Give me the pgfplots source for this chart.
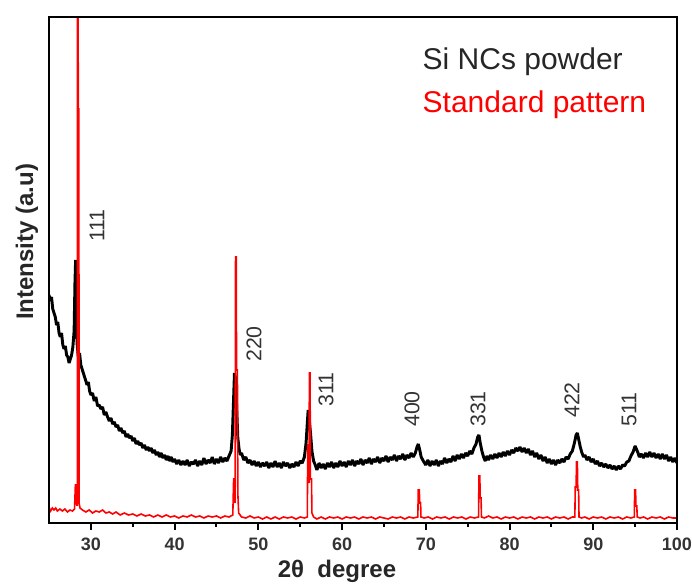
\documentclass[border=0pt]{standalone}
\usepackage{pgfplots}
\pgfplotsset{compat=1.18}
\usepackage{fontspec}
\setmainfont{Liberation Sans}

% Si NCs powder (black) and standard pattern (red), intensity in arbitrary units
\pgfplotstableread{
x y
25.00 228
25.15 222
25.30 226
25.45 214
25.60 210
25.75 206
25.90 198
26.05 201
26.20 190
26.35 186
26.50 190
26.65 178
26.80 174
26.95 177
27.10 168
27.25 166
27.40 160
27.55 164
27.70 168
27.85 176
28.00 192
28.10 240
28.18 263
28.26 215
28.35 180
28.50 166
28.65 170
28.80 158
28.95 154
29.10 150
29.25 146
29.40 142
29.55 138
29.70 141
29.85 132
30.00 128
30.20 130
30.40 122
30.60 126
30.80 117
31.00 118
31.20 114
31.40 116
31.60 108
31.80 111
32.00 106
32.20 102
32.40 105
32.60 99
32.80 101
33.00 96
33.20 98
33.40 92
33.60 95
33.80 90
34.00 92
34.20 86
34.40 89
34.60 85
34.80 87
35.00 82
35.20 85
35.40 79
35.60 82
35.80 78
36.00 80
36.20 75
36.40 78
36.60 73
36.80 76
37.00 72
37.20 75
37.40 70
37.60 73
37.80 68
38.00 71
38.20 66
38.40 70
38.60 65
38.80 68
39.00 63
39.20 67
39.40 62
39.60 66
39.80 61
40.00 64
40.25 59
40.50 63
40.75 58
41.00 62
41.25 58
41.50 63
41.75 57
42.00 61
42.25 59
42.50 63
42.75 57
43.00 62
43.25 58
43.50 65
43.75 59
44.00 63
44.25 60
44.50 66
44.75 59
45.00 64
45.25 60
45.50 66
45.75 61
46.00 65
46.25 62
46.50 67
46.75 72
46.90 88
47.05 125
47.15 150
47.25 146
47.40 118
47.55 85
47.70 74
47.85 68
48.00 70
48.25 63
48.50 66
48.75 60
49.00 63
49.25 58
49.50 62
49.75 57
50.00 61
50.25 56
50.50 60
50.75 57
51.00 61
51.25 55
51.50 60
51.75 56
52.00 62
52.25 56
52.50 60
52.75 55
53.00 61
53.25 57
53.50 60
53.75 55
54.00 59
54.25 56
54.50 61
54.75 57
55.00 62
55.25 60
55.50 66
55.70 80
55.85 100
55.95 113
56.10 102
56.25 88
56.40 72
56.60 62
56.80 58
57.00 53
57.25 60
57.50 55
57.75 59
58.00 54
58.25 60
58.50 56
58.75 61
59.00 55
59.25 60
59.50 56
59.75 62
60.00 57
60.25 61
60.50 56
60.75 62
61.00 58
61.25 63
61.50 57
61.75 62
62.00 59
62.25 64
62.50 58
62.75 63
63.00 60
63.25 65
63.50 59
63.75 64
64.00 61
64.25 66
64.50 60
64.75 65
65.00 62
65.25 67
65.50 61
65.75 66
66.00 63
66.25 68
66.50 62
66.75 67
67.00 64
67.25 69
67.50 63
67.75 68
68.00 65
68.25 70
68.50 66
68.75 70
68.95 76
69.10 79
69.25 74
69.45 66
69.70 62
70.00 58
70.25 63
70.50 57
70.75 62
71.00 58
71.25 63
71.50 57
71.75 62
72.00 59
72.25 65
72.50 60
72.75 64
73.00 61
73.25 67
73.50 62
73.75 68
74.00 64
74.25 69
74.50 65
74.75 70
75.00 67
75.25 72
75.50 69
75.75 75
76.00 79
76.20 86
76.35 88
76.50 80
76.70 72
76.90 66
77.10 62
77.30 67
77.50 63
77.75 68
78.00 64
78.25 69
78.50 65
78.75 70
79.00 66
79.25 71
79.50 67
79.75 72
80.00 68
80.25 73
80.50 70
80.75 75
81.00 72
81.25 76
81.50 71
81.75 75
82.00 70
82.25 74
82.50 68
82.75 72
83.00 66
83.25 70
83.50 64
83.75 68
84.00 62
84.25 66
84.50 60
84.75 64
85.00 59
85.25 63
85.50 58
85.75 63
86.00 60
86.25 64
86.50 61
86.75 66
87.00 64
87.25 69
87.50 72
87.75 80
87.95 88
88.10 90
88.25 84
88.45 76
88.65 70
88.85 66
89.00 68
89.25 63
89.50 66
89.75 61
90.00 64
90.25 59
90.50 62
90.75 57
91.00 60
91.25 56
91.50 59
91.75 55
92.00 58
92.25 54
92.50 57
92.75 53
93.00 57
93.25 54
93.50 58
93.75 57
94.00 61
94.25 62
94.50 67
94.75 71
95.00 77
95.15 74
95.35 70
95.50 66
95.75 69
96.00 65
96.25 70
96.50 66
96.75 71
97.00 66
97.25 70
97.50 65
97.75 69
98.00 64
98.25 69
98.50 64
98.75 68
99.00 62
99.25 66
99.50 61
99.75 65
100.00 60
}\powder

\pgfplotstableread{
x y
25.00 16
25.20 12
25.40 15
25.60 13
25.80 15
26.00 12
26.30 14
26.60 12
26.90 14
27.20 11
27.50 13
27.80 12
28.05 14
28.15 38
28.25 38
28.32 18
28.38 18
28.40 560
28.46 560
28.50 414
28.56 414
28.60 20
28.70 15
29.00 13
29.40 11
29.80 13
30.20 10
30.60 12
31.00 11
31.40 13
31.80 10
32.20 11
32.60 9
33.00 11
33.50 8
34.00 10
34.50 8
35.00 9
35.50 7
36.00 9
36.50 7
37.00 8
37.50 6
38.00 8
38.50 6
39.00 8
39.50 6
40.00 7
40.50 5
41.00 7
41.50 6
42.00 8
42.50 6
43.00 7
43.50 5
44.00 7
44.50 6
45.00 7
45.50 5
46.00 7
46.50 6
46.95 8
47.05 44
47.15 44
47.22 20
47.28 266
47.36 266
47.40 153
47.50 153
47.55 30
47.65 10
48.00 6
48.50 5
49.00 7
49.50 5
50.00 6
50.50 4
51.00 6
51.50 4
52.00 6
52.50 4
53.00 6
53.50 5
54.00 6
54.50 4
55.00 6
55.50 5
55.85 6
55.90 78
56.00 78
56.05 40
56.10 150
56.18 150
56.22 44
56.35 44
56.40 10
56.60 6
57.00 4
57.50 6
58.00 4
58.50 6
59.00 5
59.50 6
60.00 4
60.50 6
61.00 5
61.50 6
62.00 4
62.50 6
63.00 5
63.50 6
64.00 4
64.50 6
65.00 5
65.50 4
66.00 6
66.50 5
67.00 6
67.50 4
68.00 6
68.50 5
69.05 6
69.10 33
69.22 33
69.28 20
69.38 20
69.42 6
69.80 5
70.30 6
70.80 4
71.30 6
71.80 5
72.30 6
72.80 4
73.30 6
73.80 5
74.30 6
74.80 4
75.30 6
75.80 5
76.30 6
76.35 47
76.45 47
76.50 25
76.60 25
76.65 6
77.00 5
77.50 7
78.00 5
78.50 6
79.00 4
79.50 6
80.00 5
80.50 6
81.00 4
81.50 6
82.00 5
82.50 6
83.00 4
83.50 6
84.00 5
84.50 6
85.00 4
85.50 6
86.00 5
86.50 6
87.00 4
87.50 6
87.80 6
87.85 36
87.95 36
88.00 61
88.10 61
88.15 33
88.25 33
88.30 6
88.60 5
89.00 6
89.50 4
90.00 6
90.50 5
91.00 6
91.50 4
92.00 6
92.50 5
93.00 6
93.50 4
94.00 6
94.50 5
94.90 6
94.95 33
95.05 33
95.10 17
95.20 17
95.25 6
95.60 5
96.00 6
96.50 4
97.00 6
97.50 5
98.00 6
98.50 4
99.00 6
99.50 5
100.00 5
}\standard

\begin{document}
\begin{tikzpicture}
\useasboundingbox (-36.75pt,-45.75pt) rectangle (482.25pt,392.25pt);
\begin{axis}[
    at={(0,0)}, anchor=south west,
    scale only axis,
    width=471pt, height=379.5pt,
    xmin=25, xmax=100, ymin=0, ymax=506,
    xtick={30,40,...,100},
    minor xtick={35,45,...,95},
    ytick=\empty,
    xtick pos=bottom,
    tick align=outside,
    major tick length=5pt,
    minor tick length=3pt,
    every tick/.style={black, line width=1.5pt},
    axis line style={line width=2pt},
    xticklabel style={font=\bfseries\fontsize{13.5}{15}\selectfont, text=black!80, yshift=-3pt},
    /pgf/number format/assume math mode=true,
  ]
  \addplot[black, line width=2.2pt, line join=bevel] table {\powder};
  \addplot[red, line width=1.2pt] table {\standard};

  \node[anchor=base west, inner sep=0pt, font=\fontsize{22.5}{25}\selectfont, text=black!85] at (axis cs:69.6,453) {Si NCs powder};
  \node[anchor=base west, inner sep=0pt, font=\fontsize{22.5}{25}\selectfont, text=red] at (axis cs:69.6,410) {Standard pattern};

  \begin{scope}[every node/.style={rotate=90, anchor=west, inner sep=0pt, font=\fontsize{16}{18}\selectfont, text=black!80}]
    \node at (axis cs:30.73,281) {111};
    \node at (axis cs:49.48,161) {220};
    \node at (axis cs:58.08,116) {311};
    \node at (axis cs:68.35,96) {400};
    \node at (axis cs:76.24,96) {331};
    \node at (axis cs:87.46,105) {422};
    \node at (axis cs:94.27,96) {511};
  \end{scope}
\end{axis}
\draw[line width=2.2pt] (current axis.south west) rectangle (current axis.north east);
\node[rotate=90, font=\bfseries\fontsize{18}{20}\selectfont, text=black!85] at (-16.5pt,210.75pt) {Intensity (a.u)};
\node[anchor=base, inner sep=0pt, font=\bfseries\fontsize{18}{20}\selectfont, text=black!85] at (216pt,-41.25pt) {2θ~~degree};
\end{tikzpicture}
\end{document}
